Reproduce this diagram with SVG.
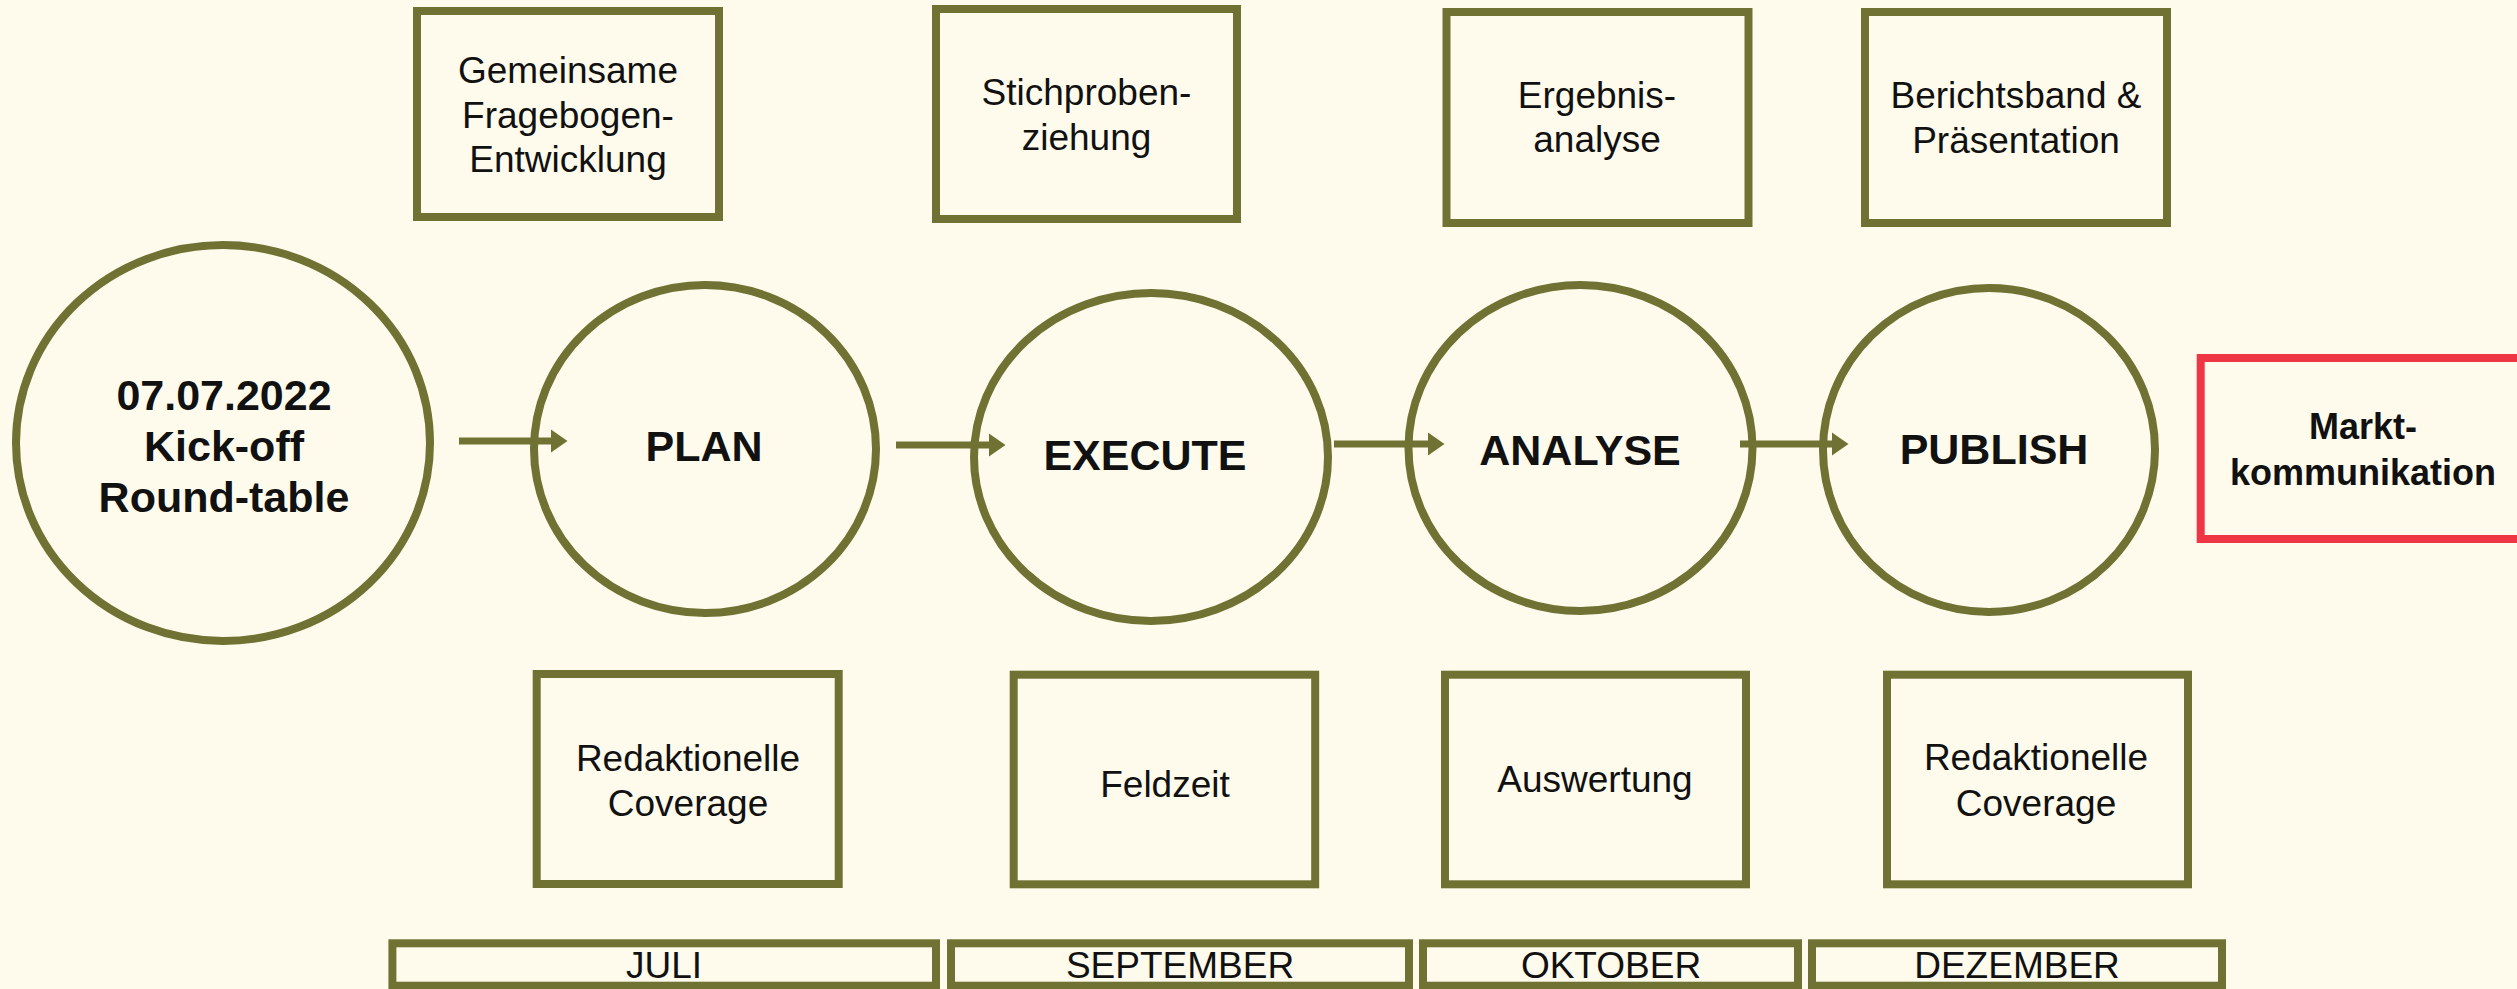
<svg xmlns="http://www.w3.org/2000/svg" width="2517" height="989" viewBox="0 0 2517 989">
<style>
.bg{fill:#FEFBEC}
.n{fill:#FEFBEC;stroke:#6F7232;stroke-width:8}
.r{fill:#FEFBEC;stroke:#EE3645;stroke-width:8}
.t{font-family:"Liberation Sans",Arial,sans-serif;font-size:37px;fill:#111;text-anchor:middle}
.b{font-family:"Liberation Sans",Arial,sans-serif;font-weight:bold;font-size:43px;fill:#111;text-anchor:middle}
.bm{font-family:"Liberation Sans",Arial,sans-serif;font-weight:bold;font-size:36px;fill:#111;text-anchor:middle}
.c{stroke:#6F7232;stroke-width:7;fill:none}
.h{fill:#6F7232}
</style>
<rect class="bg" x="0" y="0" width="2517" height="989"/>
<g id="kickoff">
<ellipse class="n" cx="223" cy="443" rx="207" ry="198"/>
<text class="b" x="224" y="410">07.07.2022</text>
<text class="b" x="224" y="461">Kick-off</text>
<text class="b" x="224" y="512">Round-table</text>
</g>
<g id="plan">
<ellipse class="n" cx="705" cy="449" rx="171" ry="164"/>
<text class="b" x="704" y="461">PLAN</text>
</g>
<g id="execute">
<ellipse class="n" cx="1151" cy="457" rx="177" ry="164"/>
<text class="b" x="1145" y="470">EXECUTE</text>
</g>
<g id="analyse">
<ellipse class="n" cx="1580.5" cy="448" rx="172" ry="163"/>
<text class="b" x="1580" y="465">ANALYSE</text>
</g>
<g id="publish">
<ellipse class="n" cx="1989" cy="450" rx="166" ry="162"/>
<text class="b" x="1994" y="464">PUBLISH</text>
</g>
<g id="connectors">
<line class="c" x1="459" y1="441" x2="552" y2="441"/><polygon class="h" points="551,429.5 567.5,441 551,452.5"/>
<line class="c" x1="896" y1="445" x2="990" y2="445"/><polygon class="h" points="989,433.5 1005.5,445 989,456.5"/>
<line class="c" x1="1334" y1="444" x2="1429" y2="444"/><polygon class="h" points="1428,432.5 1444.5,444 1428,455.5"/>
<line class="c" x1="1740" y1="444" x2="1833" y2="444"/><polygon class="h" points="1832,432.5 1848.5,444 1832,455.5"/>
</g>
<g id="box-gemeinsame">
<rect class="n" x="417" y="11" width="302" height="206"/>
<text class="t" x="568" y="83">Gemeinsame</text>
<text class="t" x="568" y="128">Fragebogen-</text>
<text class="t" x="568" y="172">Entwicklung</text>
</g>
<g id="box-stichproben">
<rect class="n" x="936" y="9" width="301" height="210"/>
<text class="t" x="1086.5" y="105">Stichproben-</text>
<text class="t" x="1086.5" y="150">ziehung</text>
</g>
<g id="box-ergebnis">
<rect class="n" x="1446.5" y="12" width="302" height="211"/>
<text class="t" x="1597" y="108">Ergebnis-</text>
<text class="t" x="1597" y="152">analyse</text>
</g>
<g id="box-bericht">
<rect class="n" x="1865" y="12" width="302" height="211"/>
<text class="t" x="2016" y="108">Berichtsband &amp;</text>
<text class="t" x="2016" y="153">Präsentation</text>
</g>
<g id="box-markt">
<rect class="r" x="2200.7" y="358" width="330" height="181"/>
<text class="bm" x="2363" y="439">Markt-</text>
<text class="bm" x="2363" y="485">kommunikation</text>
</g>
<g id="box-redaktionell1">
<rect class="n" x="536.7" y="674" width="302" height="210"/>
<text class="t" x="688" y="771">Redaktionelle</text>
<text class="t" x="688" y="816">Coverage</text>
</g>
<g id="box-feldzeit">
<rect class="n" x="1013.7" y="674.7" width="301.5" height="209.6"/>
<text class="t" x="1165" y="797">Feldzeit</text>
</g>
<g id="box-auswertung">
<rect class="n" x="1445" y="674.7" width="301" height="209.6"/>
<text class="t" x="1595" y="792">Auswertung</text>
</g>
<g id="box-redaktionell2">
<rect class="n" x="1887" y="674.7" width="301" height="209.6"/>
<text class="t" x="2036" y="770">Redaktionelle</text>
<text class="t" x="2036" y="816">Coverage</text>
</g>
<g id="month-juli">
<rect class="n" x="392.4" y="943.3" width="543.6" height="42.4"/>
<text class="t" x="664" y="978">JULI</text>
</g>
<g id="month-september">
<rect class="n" x="951" y="943.3" width="458" height="42.4"/>
<text class="t" x="1180" y="978">SEPTEMBER</text>
</g>
<g id="month-oktober">
<rect class="n" x="1423" y="943.3" width="375" height="42.4"/>
<text class="t" x="1611" y="978">OKTOBER</text>
</g>
<g id="month-dezember">
<rect class="n" x="1812" y="943.3" width="410" height="42.4"/>
<text class="t" x="2017" y="978">DEZEMBER</text>
</g>
</svg>
